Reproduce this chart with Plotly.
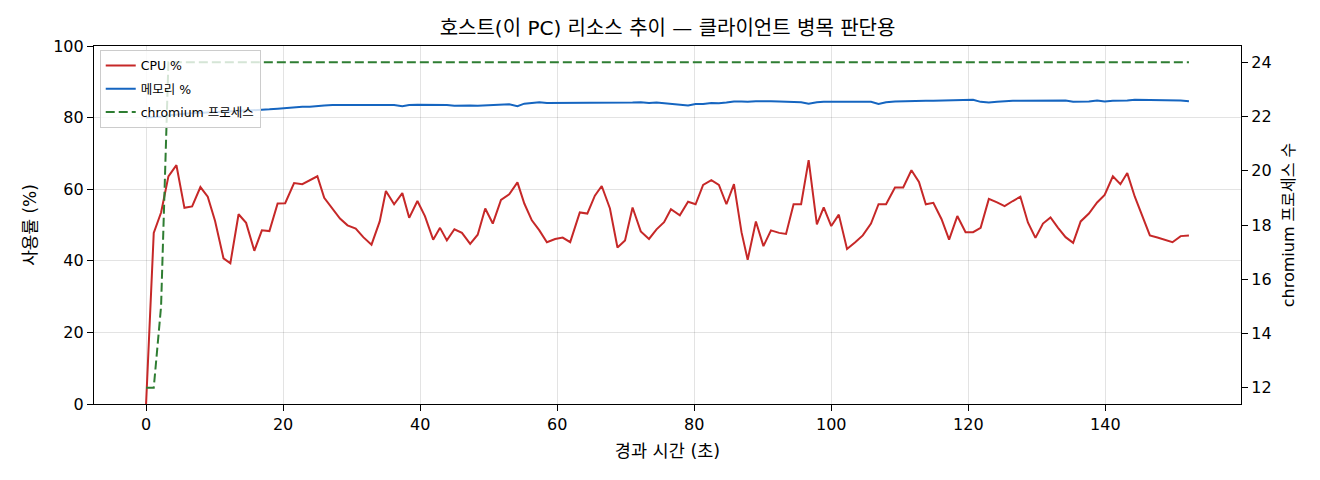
import plotly.graph_objects as go

# elapsed seconds of each sample
elapsed = [
    0, 1.12, 2.19, 3.26, 4.43, 5.6, 6.72, 7.93, 9.0, 10.07, 11.3, 12.3, 13.5, 14.6, 15.8,
    16.9, 18.0, 19.2, 20.3, 21.6, 22.8, 23.9, 25.0, 26.0, 27.2, 28.3, 29.4, 30.6, 31.7,
    32.9, 34.1, 35.0, 36.2, 37.4, 38.4, 39.6, 40.7, 41.9, 42.9, 43.9, 45.0, 46.1, 47.3,
    48.4, 49.5, 50.6, 51.8, 53.0, 54.2, 55.2, 56.3, 57.4, 58.5, 59.7, 60.8, 61.9, 63.3,
    64.4, 65.5, 66.5, 67.7, 68.8, 69.9, 71.0, 72.2, 73.4, 74.5, 75.6, 76.6, 77.9, 79.1,
    80.2, 81.3, 82.5, 83.6, 84.7, 85.8, 86.9, 87.8, 89.0, 90.1, 91.2, 92.4, 93.4, 94.5,
    95.6, 96.7, 97.9, 98.9, 100.0, 101.1, 102.3, 103.5, 104.6, 105.8, 106.9, 108.0, 109.3,
    110.5, 111.7, 112.8, 113.8, 114.9, 116.1, 117.2, 118.4, 119.6, 120.7, 121.8, 123.0,
    124.2, 125.3, 126.5, 127.6, 128.7, 129.8, 130.9, 132.0, 133.1, 134.2, 135.3, 136.4,
    137.6, 138.8, 139.9, 141.1, 142.2, 143.2, 144.3, 145.4, 146.5, 147.6, 148.7, 149.8,
    151.0, 152.2,
]

cpu = [
    0, 47.8, 53.5, 63.6, 66.7, 54.8, 55.2, 60.6, 57.9, 51.1, 40.7, 39.3, 53.0, 50.6, 42.8,
    48.5, 48.3, 56.0, 56.1, 61.7, 61.4, 62.6, 63.6, 57.6, 54.4, 51.8, 49.9, 49.0, 46.6,
    44.5, 51.0, 59.5, 55.8, 58.9, 52.0, 56.7, 52.5, 45.9, 49.2, 45.7, 48.8, 47.8, 44.7,
    47.3, 54.6, 50.4, 57.0, 58.6, 61.9, 56.0, 51.3, 48.5, 45.2, 46.1, 46.5, 45.2, 53.5,
    53.2, 58.2, 60.9, 54.6, 43.7, 45.7, 54.9, 48.2, 46.1, 48.8, 50.8, 54.4, 52.7, 56.5,
    55.8, 61.2, 62.5, 61.2, 55.8, 61.4, 48.0, 40.3, 51.0, 44.1, 48.5, 47.8, 47.5, 55.8,
    55.8, 68.1, 50.2, 54.9, 49.7, 52.9, 43.3, 45.2, 47.1, 50.4, 55.8, 55.8, 60.5,
    60.5, 65.3, 62.0, 55.8, 56.2, 51.6, 45.9, 52.5, 48.0, 48.0, 49.2, 57.3,
    56.3, 55.3, 56.7, 57.9, 50.7, 46.4, 50.4, 52.1, 49.2, 46.6, 45.0, 51.0,
    53.2, 56.3, 58.4, 63.6, 61.4, 64.5, 57.9, 52.3, 47.1, 46.5, 45.8, 45.2,
    46.9, 47.1,
]

mem = [
    80.0, 80.1, 80.3, 80.6, 80.9,
    81.1, 81.2, 81.3, 81.4, 81.5,
    81.6, 81.7, 81.8, 81.9, 82.0, 82.1, 82.3, 82.5, 82.7,
    82.8, 83.0, 83.0, 83.3, 83.4, 83.5, 83.5, 83.6, 83.5, 83.6,
    83.6, 83.4, 83.4, 83.5, 83.2, 83.5, 83.6, 83.6, 83.7, 83.6, 83.5,
    83.3, 83.4, 83.4, 83.3, 83.4, 83.5, 83.6, 83.7, 83.2, 83.9,
    84.1, 84.3, 84.1, 84.1, 84.1, 84.0, 84.0, 84.0, 84.1, 84.2,
    84.0, 84.1, 84.1, 84.2, 84.3, 84.1, 84.2, 84.0, 83.9, 83.7,
    83.4, 83.8, 83.8, 84.1, 84.0, 84.2, 84.5, 84.5, 84.4, 84.6,
    84.5, 84.6, 84.5, 84.4, 84.4, 84.3, 83.9, 84.3, 84.4, 84.4,
    84.5, 84.4, 84.3, 84.3, 84.4, 83.8, 84.3, 84.5, 84.6, 84.6,
    84.6, 84.7, 84.7, 84.8, 84.8, 84.9, 84.9, 85.0, 84.4, 84.2,
    84.4, 84.6, 84.7, 84.7, 84.7, 84.7, 84.6, 84.7, 84.7, 84.8,
    84.4, 84.4, 84.5, 84.8, 84.5, 84.7, 84.7, 84.8, 85.0, 85.0,
    84.9, 85.0, 84.9, 84.9, 84.8, 84.6,
]

chromium = [
    12, 12, 15, 24, 24, 24, 24, 24, 24, 24, 24, 24, 24, 24, 24, 24, 24, 24, 24, 24,
    24, 24, 24, 24, 24, 24, 24, 24, 24, 24, 24, 24, 24, 24, 24, 24, 24, 24, 24, 24,
    24, 24, 24, 24, 24, 24, 24, 24, 24, 24, 24, 24, 24, 24, 24, 24, 24, 24, 24, 24,
    24, 24, 24, 24, 24, 24, 24, 24, 24, 24, 24, 24, 24, 24, 24, 24, 24, 24, 24, 24,
    24, 24, 24, 24, 24, 24, 24, 24, 24, 24, 24, 24, 24, 24, 24, 24, 24, 24, 24, 24,
    24, 24, 24, 24, 24, 24, 24, 24, 24, 24, 24, 24, 24, 24, 24, 24, 24, 24, 24, 24,
    24, 24, 24, 24, 24, 24, 24, 24, 24, 24, 24, 24, 24, 24, 24, 24,
]

FONT = "DejaVu Sans, Noto Sans CJK KR"

fig = go.Figure()
fig.add_trace(go.Scatter(x=elapsed, y=cpu, name="CPU %", mode="lines", legendgroup="a",
                         line=dict(color="#c62828", width=2)))
fig.add_trace(go.Scatter(x=elapsed, y=mem, name="메모리 %", mode="lines", legendgroup="b",
                         line=dict(color="#1565c0", width=2)))
fig.add_trace(go.Scatter(x=elapsed, y=chromium, name="chromium 프로세스", mode="lines",
                         legendgroup="c",
                         line=dict(color="#2e7d32", width=2, dash="9px,4px"),
                         yaxis="y2"))

axis_style = dict(showline=True, linecolor="black", linewidth=1.2, ticks="outside",
                  ticklen=6, tickwidth=1.2, tickcolor="black",
                  tickfont=dict(size=16, color="black"), zeroline=False)

fig.update_layout(
    width=1320, height=480,
    margin=dict(l=86, r=87, t=38, b=84),
    paper_bgcolor="white", plot_bgcolor="white",
    font=dict(family=FONT, color="black"),
    title=dict(text="호스트(이 PC) 리소스 추이 — 클라이언트 병목 판단용",
               xref="paper", x=0.5, xanchor="center", y=0.958, yanchor="middle",
               font=dict(size=20)),
    xaxis=dict(range=[-7.6, 159.8], tickvals=[0, 20, 40, 60, 80, 100, 120, 140],
               showgrid=True, gridcolor="rgba(0,0,0,0.11)", mirror=True,
               title=dict(text="경과 시간 (초)", font=dict(size=17.5), standoff=11),
               **axis_style),
    yaxis=dict(range=[0, 100], tickvals=[0, 20, 40, 60, 80, 100],
               showgrid=True, gridcolor="rgba(0,0,0,0.11)",
               title=dict(text="사용률 (%)", font=dict(size=17), standoff=12),
               **axis_style),
    yaxis2=dict(range=[11.4, 24.6], tickvals=[12, 14, 16, 18, 20, 22, 24],
                overlaying="y", side="right", showgrid=False,
                title=dict(text="chromium 프로세스 수", font=dict(size=16), standoff=12),
                **axis_style),
    legend=dict(x=0.005, y=0.989, xanchor="left", yanchor="top",
                bgcolor="rgba(255,255,255,0.8)", bordercolor="#cccccc", borderwidth=1,
                font=dict(size=12.5), tracegroupgap=4, itemwidth=30,
                traceorder="grouped"),
    showlegend=True,
)

fig.write_html("out.html")
